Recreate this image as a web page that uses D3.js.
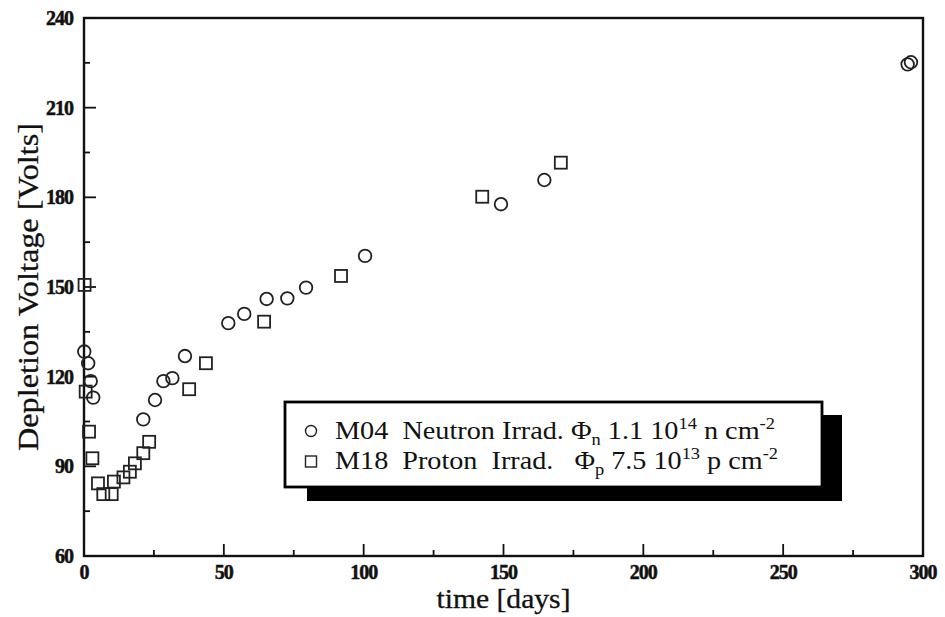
<!DOCTYPE html>
<html>
<head>
<meta charset="utf-8">
<script src="https://cdn.jsdelivr.net/npm/d3@7"></script>
<style>
  html, body { margin: 0; padding: 0; background: #fff; }
  svg { display: block; }
  text { font-family: "Liberation Serif", "Times New Roman", serif; fill: #111; white-space: pre; }
</style>
</head>
<body>
<svg id="chart" width="945" height="617"></svg>
<script>
// ---- data ----
const neutronDays    = [0.1, 1.5, 2.4, 3.3, 21.2, 25.4, 28.4, 31.6, 36.1, 51.6, 57.3, 65.3, 72.7, 79.4, 100.5, 149.1, 164.6, 294.5, 295.7];
const neutronVoltage = [128.4, 124.5, 118.5, 113.0, 105.7, 112.2, 118.5, 119.5, 126.9, 137.9, 141.0, 146.0, 146.2, 149.8, 160.4, 177.7, 185.8, 224.5, 225.2];

const protonDays    = [0.2, 0.6, 1.8, 3.0, 5.0, 6.9, 9.9, 10.7, 14.1, 16.4, 18.2, 21.2, 23.3, 37.6, 43.6, 64.4, 91.9, 142.4, 170.5];
const protonVoltage = [150.7, 115.0, 101.6, 92.7, 84.3, 80.7, 80.7, 84.9, 86.3, 88.2, 91.0, 94.4, 98.2, 115.8, 124.5, 138.4, 153.7, 180.2, 191.6];

const xTicks = [0, 50, 100, 150, 200, 250, 300];
const yTicks = [60, 90, 120, 150, 180, 210, 240];
const xMinorTicks = [25, 75, 125, 175, 225, 275];
const yMinorTicks = [75, 105, 135, 165, 195, 225];

const xTitle = "time [days]";
const yTitle = "Depletion Voltage [Volts]";

// ---- chart ----
const svg = d3.select("#chart");
const x = d3.scaleLinear().domain([0, 300]).range([84, 923]);
const y = d3.scaleLinear().domain([60, 240]).range([556, 18]);

// frame
svg.append("rect")
  .attr("x", x(0)).attr("y", y(240))
  .attr("width", x(300) - x(0)).attr("height", y(60) - y(240))
  .attr("fill", "none").attr("stroke", "#111").attr("stroke-width", 2.4);

// y ticks (inward)
const yAxis = svg.append("g");
yAxis.selectAll("line.maj").data(yTicks).enter().append("line")
  .attr("x1", x(0)).attr("x2", x(0) + 12)
  .attr("y1", d => y(d)).attr("y2", d => y(d))
  .attr("stroke", "#111").attr("stroke-width", 1.8);
yAxis.selectAll("line.min").data(yMinorTicks).enter().append("line")
  .attr("x1", x(0)).attr("x2", x(0) + 6)
  .attr("y1", d => y(d)).attr("y2", d => y(d))
  .attr("stroke", "#111").attr("stroke-width", 1.8);
yAxis.selectAll("text").data(yTicks).enter().append("text")
  .attr("x", x(0) - 11).attr("y", d => y(d) + 7)
  .attr("text-anchor", "end")
  .attr("font-size", 20).attr("font-weight", "bold")
  .attr("letter-spacing", -1)
  .attr("stroke", "#111").attr("stroke-width", 0.5)
  .text(d => d);

// x ticks (inward)
const xAxis = svg.append("g");
xAxis.selectAll("line.maj").data(xTicks).enter().append("line")
  .attr("x1", d => x(d)).attr("x2", d => x(d))
  .attr("y1", y(60)).attr("y2", y(60) - 12)
  .attr("stroke", "#111").attr("stroke-width", 1.8);
xAxis.selectAll("line.min").data(xMinorTicks).enter().append("line")
  .attr("x1", d => x(d)).attr("x2", d => x(d))
  .attr("y1", y(60)).attr("y2", y(60) - 6)
  .attr("stroke", "#111").attr("stroke-width", 1.8);
xAxis.selectAll("text").data(xTicks).enter().append("text")
  .attr("x", d => x(d)).attr("y", y(60) + 23)
  .attr("text-anchor", "middle")
  .attr("font-size", 20).attr("font-weight", "bold")
  .attr("letter-spacing", -1)
  .attr("stroke", "#111").attr("stroke-width", 0.5)
  .text(d => d);

// axis titles
svg.append("text")
  .attr("x", (x(0) + x(300)) / 2).attr("y", 608)
  .attr("text-anchor", "middle").attr("font-size", 27)
  .attr("textLength", 134).attr("lengthAdjust", "spacingAndGlyphs")
  .attr("stroke", "#111").attr("stroke-width", 0.3)
  .text(xTitle);
svg.append("text")
  .attr("transform", `translate(38, ${(y(60) + y(240)) / 2}) rotate(-90)`)
  .attr("text-anchor", "middle").attr("font-size", 30)
  .attr("textLength", 328).attr("lengthAdjust", "spacingAndGlyphs")
  .attr("stroke", "#111").attr("stroke-width", 0.3)
  .text(yTitle);

// markers
const neutron = neutronDays.map((d, i) => ({ d, v: neutronVoltage[i] }));
const proton = protonDays.map((d, i) => ({ d, v: protonVoltage[i] }));
const side = 12;
svg.append("g").selectAll("rect").data(proton).enter().append("rect")
  .attr("x", p => x(p.d) - side / 2).attr("y", p => y(p.v) - side / 2)
  .attr("width", side).attr("height", side)
  .attr("fill", "none").attr("stroke", "#222").attr("stroke-width", 1.8);
svg.append("g").selectAll("circle").data(neutron).enter().append("circle")
  .attr("cx", p => x(p.d)).attr("cy", p => y(p.v)).attr("r", 6.3)
  .attr("fill", "none").attr("stroke", "#222").attr("stroke-width", 1.8);

// legend with drop shadow
const lg = svg.append("g");
lg.append("rect").attr("x", 307).attr("y", 415).attr("width", 535).attr("height", 86).attr("fill", "#000");
lg.append("rect").attr("x", 285).attr("y", 402).attr("width", 537).attr("height", 85)
  .attr("fill", "#fff").attr("stroke", "#000").attr("stroke-width", 2.8);

lg.append("circle").attr("cx", 311).attr("cy", 431).attr("r", 5.5)
  .attr("fill", "none").attr("stroke", "#222").attr("stroke-width", 1.4);
lg.append("rect").attr("x", 305.5).attr("y", 456).attr("width", 11).attr("height", 11)
  .attr("fill", "none").attr("stroke", "#222").attr("stroke-width", 1.4);

const t1 = lg.append("text").attr("x", 335).attr("y", 439).attr("font-size", 26)
  .attr("textLength", 440).attr("lengthAdjust", "spacingAndGlyphs");
t1.append("tspan").text("M04  Neutron Irrad. Φ");
t1.append("tspan").attr("font-size", 17).attr("dy", 6).text("n");
t1.append("tspan").attr("dy", -6).text(" 1.1 10");
t1.append("tspan").attr("font-size", 17).attr("dy", -10).text("14");
t1.append("tspan").attr("dy", 10).text(" n cm");
t1.append("tspan").attr("font-size", 17).attr("dy", -10).text("-2");

const t2 = lg.append("text").attr("x", 335).attr("y", 469).attr("font-size", 26)
  .attr("textLength", 443).attr("lengthAdjust", "spacingAndGlyphs");
t2.append("tspan").text("M18  Proton  Irrad.   Φ");
t2.append("tspan").attr("font-size", 17).attr("dy", 6).text("p");
t2.append("tspan").attr("dy", -6).text(" 7.5 10");
t2.append("tspan").attr("font-size", 17).attr("dy", -10).text("13");
t2.append("tspan").attr("dy", 10).text(" p cm");
t2.append("tspan").attr("font-size", 17).attr("dy", -10).text("-2");
</script>
</body>
</html>
